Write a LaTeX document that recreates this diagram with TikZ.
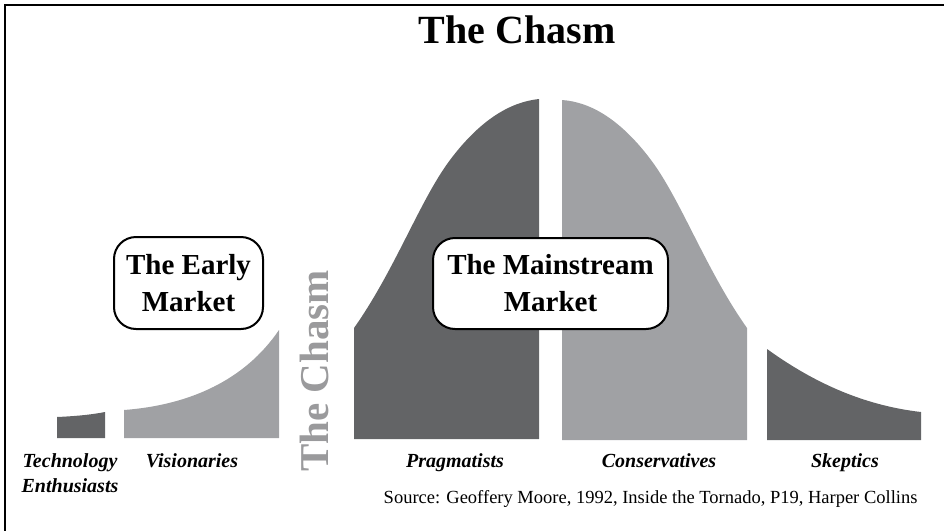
\documentclass[tikz,border=0pt]{standalone}
\usepackage{fontspec}
\setmainfont{Liberation Serif}
\definecolor{darkg}{HTML}{636466}
\definecolor{lightg}{HTML}{A0A1A4}
\definecolor{chasmg}{HTML}{9A9A9C}
\begin{document}
\begin{tikzpicture}[x=1pt,y=-1pt,
  darkseg/.style={fill=darkg, draw=none},
  lightseg/.style={fill=lightg, draw=none},
  mbox/.style={draw=black, line width=2pt, fill=white, rounded corners=22pt, align=center,
    font=\fontsize{29}{37}\selectfont\bfseries, inner sep=0pt},
  lbl/.style={font=\fontsize{20}{24}\selectfont\bfseries\itshape, anchor=base}
]
\useasboundingbox (0,0) rectangle (944,530);
\draw[line width=1.6pt] (5,540) -- (5,5) -- (960,5);

% segments of the curve
\path[darkseg] (57,438) -- (57,417) .. controls (80,416) and (95,414) .. (105,412) -- (105,438) -- cycle;
\path[lightseg] (124,438) -- (124,410) .. controls (190,405) and (245,380) .. (279,330) -- (279,438) -- cycle;
\path[darkseg] (354,439) -- (354,328) .. controls (395,270) and (420,200) .. (450,160)
   .. controls (480,120) and (510,102) .. (539,99) -- (539,439) -- cycle;
\path[lightseg] (562,440) -- (562,100) .. controls (591,102) and (621,120) .. (651,160)
   .. controls (681,200) and (706,270) .. (747,328) -- (747,440) -- cycle;
\path[darkseg] (767,440) -- (767,349) .. controls (810,380) and (860,405) .. (921,412) -- (921,440) -- cycle;

% title
\node[anchor=base, font=\fontsize{40}{40}\selectfont\bfseries] (title) at (517,43) {The Chasm};

% vertical chasm label
\node[rotate=90, anchor=base, text=chasmg, font=\fontsize{41}{41}\selectfont\bfseries] (vchasm) at (328,371) {The Chasm};

% market boxes
\node[mbox, minimum width=149pt, minimum height=92pt] (early) at (188.5,283) {The Early\\Market};
\node[mbox, minimum width=235pt, minimum height=91pt] (main) at (550.5,283.5) {The Mainstream\\Market};

% group labels
\node[lbl] (tech) at (70,467) {Technology};
\node[lbl] (enth) at (70,492) {Enthusiasts};
\node[lbl] (vis) at (192,467) {Visionaries};
\node[lbl] (prag) at (455,467) {Pragmatists};
\node[lbl] (cons) at (659,467) {Conservatives};
\node[lbl] (skep) at (845,467) {Skeptics};

% source
\node[anchor=base east, font=\fontsize{18.5}{18.5}\selectfont] (src) at (921,503)
  {Source: Geoffery Moore, 1992, Inside the Tornado, P19, Harper Collins};
\end{tikzpicture}
\end{document}
